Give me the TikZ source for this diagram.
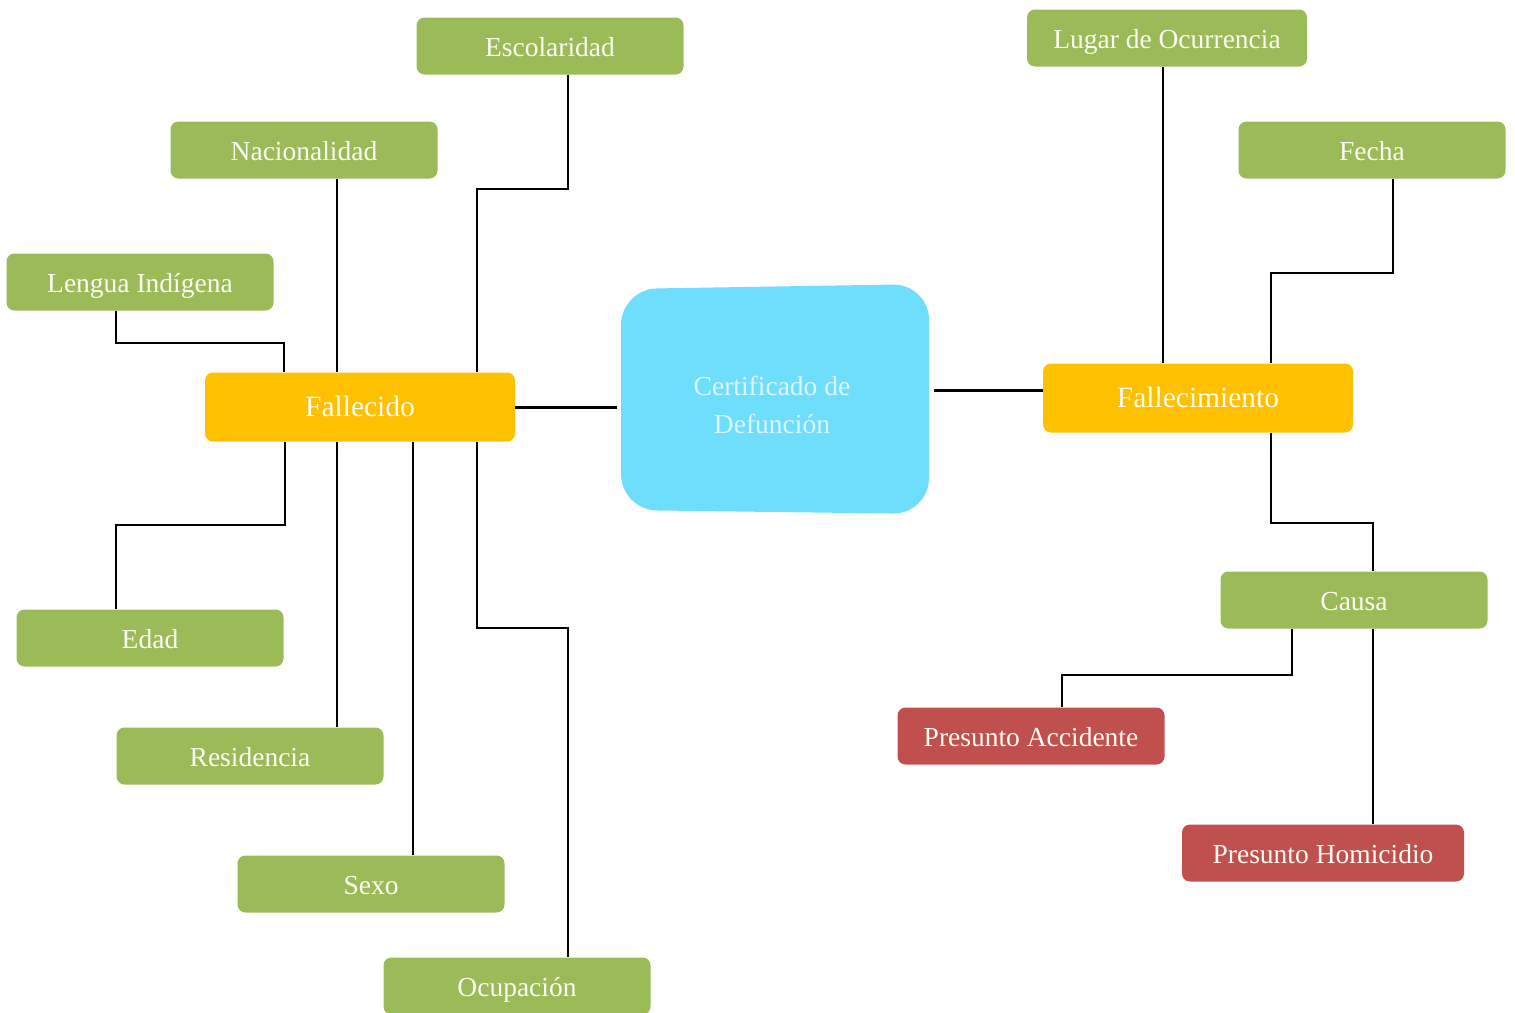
\documentclass[tikz,border=0pt]{standalone}
\usepackage{fontspec}
\setmainfont{Liberation Serif}
\definecolor{gbox}{HTML}{9BBB59}
\definecolor{obox}{HTML}{FFC000}
\definecolor{rbox}{HTML}{C0504D}
\definecolor{bbox}{HTML}{6FDDFC}
\definecolor{btext}{HTML}{DDF6FD}
\definecolor{wtext}{HTML}{FCFCF4}
\begin{document}
\begin{tikzpicture}[x=1pt,y=-1pt,
  base/.style={rounded corners=8pt, inner sep=0pt, text=wtext,
    font=\fontsize{27.5}{33}\selectfont, text height=20pt, text depth=0pt},
  gnode/.style={base, fill=gbox, minimum width=267pt, minimum height=57pt},
  onode/.style={base, fill=obox, minimum width=310pt, minimum height=69pt,
    font=\fontsize{29.5}{35}\selectfont, text height=19pt, text depth=1pt},
  rnode/.style={base, fill=rbox, minimum width=267pt, minimum height=57pt},
  link/.style={draw=black, line width=2.2pt},
  mainlink/.style={draw=black, line width=3pt}]
\useasboundingbox (0,0) rectangle (1515,1012);
% central box
\fill[bbox, rounded corners=36pt] (621,289) -- (929,284) -- (929,514) -- (621,510) -- cycle;
\node[inner sep=0pt, text=btext, align=center, font=\fontsize{27.5}{38}\selectfont] (cert) at (772,405) {Certificado de\\Defunción};
\coordinate (certL) at (617,407);
\coordinate (certR) at (934,390);
% left side
\node[onode] (fal) at (360,407) {Fallecido};
\node[gnode] (esc) at (550,46) {Escolaridad};
\node[gnode] (nac) at (304,150) {Nacionalidad};
\node[gnode] (len) at (140,282) {Lengua Indígena};
\node[gnode] (eda) at (150,638) {Edad};
\node[gnode] (res) at (250,756) {Residencia};
\node[gnode] (sex) at (371,884) {Sexo};
\node[gnode] (ocu) at (517,986) {Ocupación};
% right side
\node[onode] (fam) at (1198,398) {Fallecimiento};
\node[gnode, minimum width=280pt] (lug) at (1167,38) {Lugar de Ocurrencia};
\node[gnode] (fec) at (1372,150) {Fecha};
\node[gnode] (cau) at (1354,600) {Causa};
\node[rnode] (acc) at (1031,736) {Presunto Accidente};
\node[rnode, minimum width=282pt] (hom) at (1323,853) {Presunto Homicidio};
% connectors
\draw[mainlink] (fal.east) -- (certL);
\draw[mainlink] (certR) -- (fam.west |- certR);
\draw[link] (esc.south -| 568,0) -- (568,189) -- (477,189) -- (fal.north -| 477,0);
\draw[link] (nac.south -| 337,0) -- (fal.north -| 337,0);
\draw[link] (len.south -| 116,0) -- (116,343) -- (284,343) -- (fal.north -| 284,0);
\draw[link] (fal.south -| 285,0) -- (285,525) -- (116,525) -- (eda.north -| 116,0);
\draw[link] (fal.south -| 337,0) -- (res.north -| 337,0);
\draw[link] (fal.south -| 413,0) -- (sex.north -| 413,0);
\draw[link] (fal.south -| 477,0) -- (477,628) -- (568,628) -- (ocu.north -| 568,0);
\draw[link] (lug.south -| 1163,0) -- (fam.north -| 1163,0);
\draw[link] (fec.south -| 1393,0) -- (1393,273) -- (1271,273) -- (fam.north -| 1271,0);
\draw[link] (fam.south -| 1271,0) -- (1271,523) -- (1373,523) -- (cau.north -| 1373,0);
\draw[link] (cau.south -| 1292,0) -- (1292,675) -- (1062,675) -- (acc.north -| 1062,0);
\draw[link] (cau.south -| 1373,0) -- (hom.north -| 1373,0);
\end{tikzpicture}
\end{document}
